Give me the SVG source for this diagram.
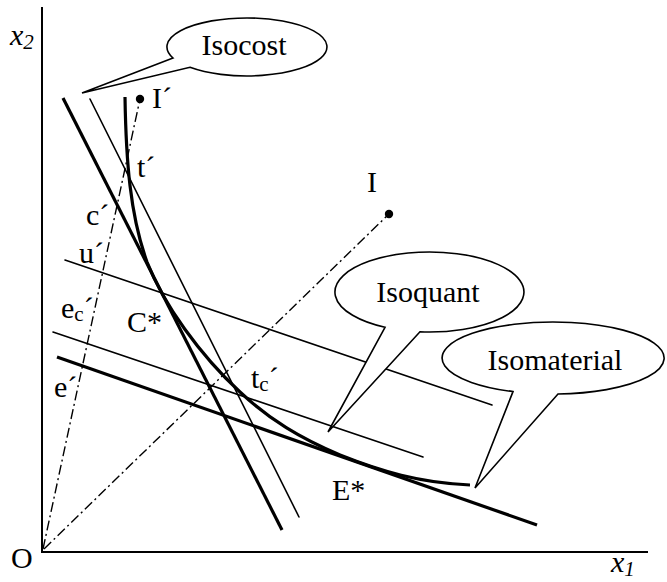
<svg xmlns="http://www.w3.org/2000/svg" width="667" height="582" viewBox="0 0 667 582">
<style>
text{font-family:"Liberation Serif","DejaVu Serif",serif;font-size:30px;fill:#000}
.it{font-style:italic}
.thin{stroke:#000;stroke-width:1.6;fill:none;stroke-linecap:round}
.thick{stroke:#000;stroke-width:3.2;fill:none;stroke-linecap:butt}
.dd{stroke:#000;stroke-width:1.4;fill:none;stroke-dasharray:10 3.5 2 3.5}
.callout{stroke:#000;stroke-width:1.6;fill:#fff;stroke-linejoin:miter}
</style>
<rect width="667" height="582" fill="#fff"/>
<g id="axes">
<line x1="42" y1="7" x2="42" y2="552" stroke="#000" stroke-width="2"/>
<line x1="41" y1="552" x2="648" y2="552" stroke="#000" stroke-width="2"/>
<text class="it" x="10" y="45">x<tspan font-size="21" dy="4">2</tspan></text>
<text class="it" x="611" y="572">x<tspan font-size="21" dy="4">1</tspan></text>
<text x="11" y="568">O</text>
</g>
<g id="connectors">
<line id="isocost-thick" class="thick" x1="63" y1="98" x2="282" y2="530"/>
<line id="isocost-thin" class="thin" x1="90" y1="99" x2="299" y2="517"/>
<line id="line-u" class="thin" x1="65" y1="260" x2="492" y2="405"/>
<line id="line-ec" class="thin" x1="53" y1="332" x2="423" y2="457"/>
<line id="isomaterial-line" class="thick" x1="57" y1="357" x2="537" y2="525"/>
<path id="isoquant-curve" class="thick" d="M125,97 C126,160 130,215 147,262 C164,305 200,355 240,392 C270,420 300,438 340,455 C380,471 420,483 470,485"/>
<line id="ray-I" class="dd" x1="44" y1="549" x2="389" y2="214"/>
<line id="ray-Iprime" class="dd" x1="43" y1="549" x2="140" y2="99"/>
</g>
<g id="point-I">
<circle cx="389" cy="214" r="4.2" fill="#000"/>
<text x="367" y="192">I</text>
</g>
<g id="point-Iprime">
<circle cx="140" cy="99" r="4.2" fill="#000"/>
<text x="152" y="108" font-size="26">I´</text>
</g>
<g id="labels">
<text x="137" y="177">t´</text>
<text x="86" y="225">c´</text>
<text x="79" y="263">u´</text>
<text x="61" y="318">e<tspan font-size="21" dy="3">c</tspan><tspan dy="-3">´</tspan></text>
<text x="127" y="332">C*</text>
<text x="54" y="397">e´</text>
<text x="251" y="388">t<tspan font-size="21" dy="3">c</tspan><tspan dy="-3">´</tspan></text>
<text x="332" y="500">E*</text>
</g>
<g id="callout-isocost">
<path class="callout" d="M173,58 L82,93 L190,67.3 A80,29 0 1 0 173,58 Z"/>
<text x="244" y="55" text-anchor="middle">Isocost</text>
</g>
<g id="callout-isoquant">
<path class="callout" d="M385,327.3 L328,432 L420,331.8 A94.5,40 0 1 0 385,327.3 Z"/>
<text x="428" y="302" text-anchor="middle">Isoquant</text>
</g>
<g id="callout-isomaterial">
<path class="callout" d="M513,391.6 L475,488 L558,394 A111,36 0 1 0 513,391.6 Z"/>
<text x="555" y="370" text-anchor="middle">Isomaterial</text>
</g>
</svg>
